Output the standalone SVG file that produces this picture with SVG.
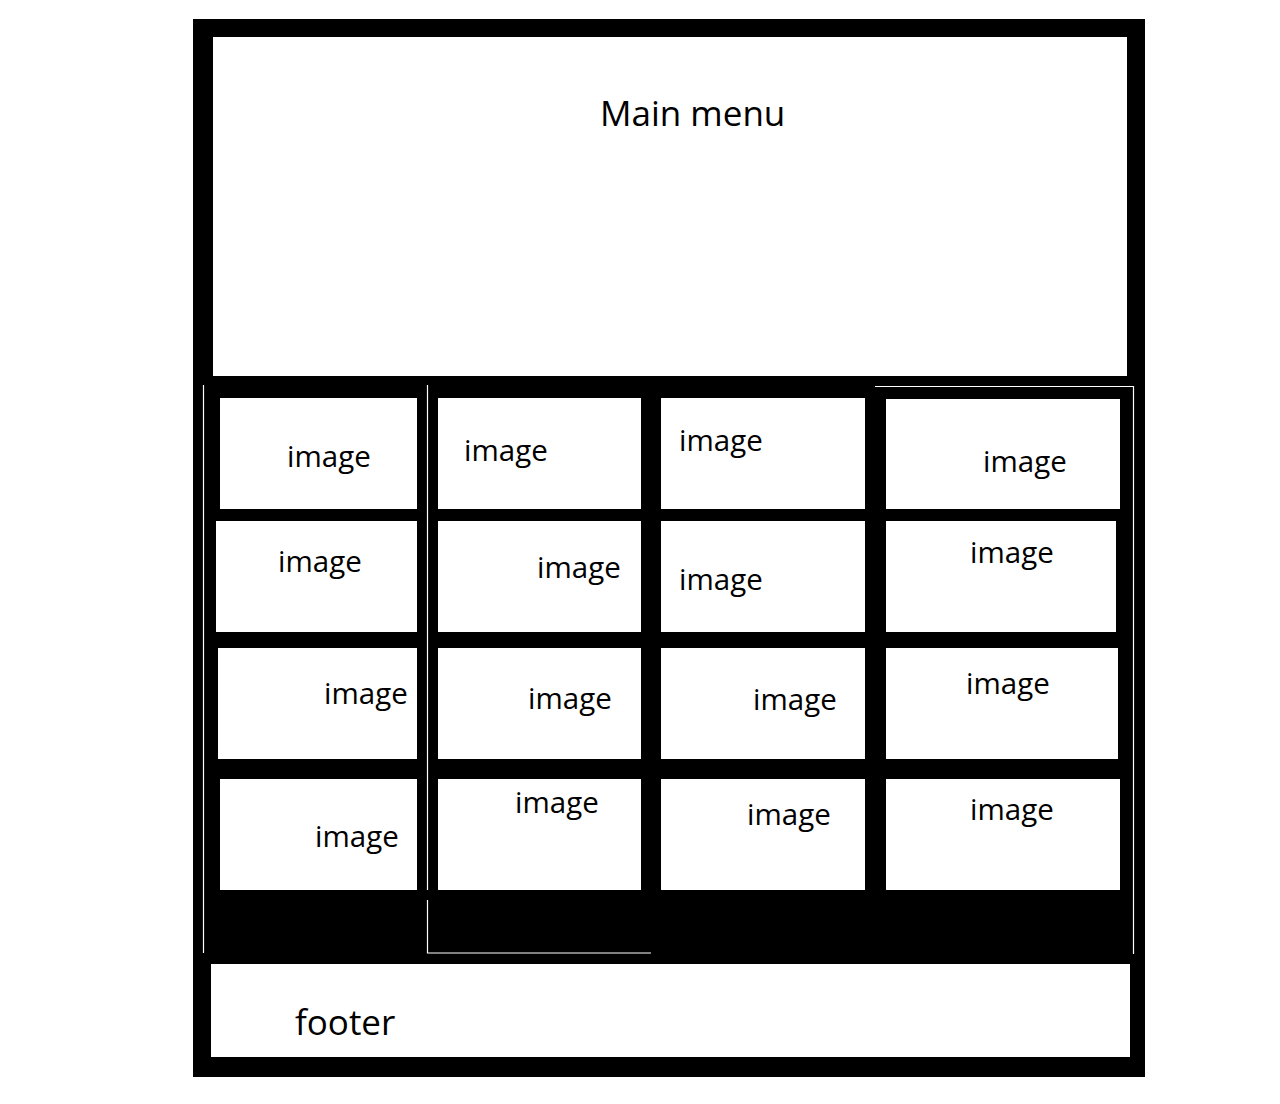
<svg xmlns="http://www.w3.org/2000/svg" width="1280" height="1104" viewBox="0 0 1280 1104">
<style>
.cell{fill:#ffffff}
.lbl{font-family:"Open Sans","Noto Sans","DejaVu Sans",sans-serif;font-size:29.5px;fill:#000000}
.big{font-family:"Open Sans","Noto Sans","DejaVu Sans",sans-serif;font-size:35px;fill:#000000}
.thin{stroke:#ffffff;stroke-width:1.2;fill:none}
</style>
<rect x="0" y="0" width="1280" height="1104" fill="#ffffff"/>
<rect id="frame" x="193" y="19" width="952" height="1058" fill="#000000"/>
<g id="main-menu">
<rect class="cell" x="213" y="37" width="914" height="339"/>
<text class="big" x="600" y="126">Main menu</text>
</g>
<g id="footer">
<rect class="cell" x="211" y="964" width="919" height="93"/>
<text class="big" x="295" y="1035">footer</text>
</g>
<g id="connectors">
<path class="thin" d="M203.5 385V953"/>
<path class="thin" d="M427.5 385V890M427.5 900V953H651"/>
<path class="thin" d="M875 386.5H1134M1133.5 386V954"/>
</g>
<g id="cell-1-1"><rect class="cell" x="220" y="398" width="197" height="111"/><text class="lbl" x="287" y="467">image</text></g>
<g id="cell-1-2"><rect class="cell" x="438" y="398" width="203" height="111"/><text class="lbl" x="464" y="461">image</text></g>
<g id="cell-1-3"><rect class="cell" x="661" y="398" width="204" height="111"/><text class="lbl" x="679" y="451">image</text></g>
<g id="cell-1-4"><rect class="cell" x="886" y="399" width="234" height="110"/><text class="lbl" x="983" y="472">image</text></g>
<g id="cell-2-1"><rect class="cell" x="216" y="521" width="201" height="111"/><text class="lbl" x="278" y="572">image</text></g>
<g id="cell-2-2"><rect class="cell" x="438" y="521" width="203" height="111"/><text class="lbl" x="537" y="578">image</text></g>
<g id="cell-2-3"><rect class="cell" x="661" y="521" width="204" height="111"/><text class="lbl" x="679" y="590">image</text></g>
<g id="cell-2-4"><rect class="cell" x="886" y="521" width="230" height="111"/><text class="lbl" x="970" y="563">image</text></g>
<g id="cell-3-1"><rect class="cell" x="218" y="648" width="199" height="111"/><text class="lbl" x="324" y="704">image</text></g>
<g id="cell-3-2"><rect class="cell" x="438" y="648" width="203" height="111"/><text class="lbl" x="528" y="709">image</text></g>
<g id="cell-3-3"><rect class="cell" x="661" y="648" width="204" height="111"/><text class="lbl" x="753" y="710">image</text></g>
<g id="cell-3-4"><rect class="cell" x="886" y="648" width="232" height="111"/><text class="lbl" x="966" y="694">image</text></g>
<g id="cell-4-1"><rect class="cell" x="220" y="779" width="197" height="111"/><text class="lbl" x="315" y="847">image</text></g>
<g id="cell-4-2"><rect class="cell" x="438" y="779" width="203" height="111"/><text class="lbl" x="515" y="813">image</text></g>
<g id="cell-4-3"><rect class="cell" x="661" y="779" width="204" height="111"/><text class="lbl" x="747" y="825">image</text></g>
<g id="cell-4-4"><rect class="cell" x="886" y="779" width="234" height="111"/><text class="lbl" x="970" y="820">image</text></g>
</svg>
